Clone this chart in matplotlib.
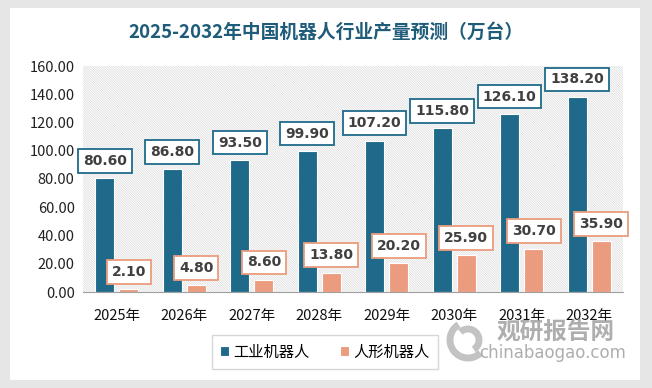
import matplotlib.pyplot as plt
import numpy as np
from matplotlib.patches import Rectangle, Arc

plt.rcParams['font.family'] = ['Noto Sans CJK SC', 'DejaVu Sans']
plt.rcParams['hatch.linewidth'] = 0.5

years = ["2025年", "2026年", "2027年", "2028年", "2029年", "2030年", "2031年", "2032年"]
industrial = [80.6, 86.8, 93.5, 99.9, 107.2, 115.8, 126.1, 138.2]
humanoid = [2.1, 4.8, 8.6, 13.8, 20.2, 25.9, 30.7, 35.9]
series_names = ["工业机器人", "人形机器人"]

blue = "#1F6A8A"
orange = "#EC9C7E"
W, H = 652, 388

fig = plt.figure(figsize=(6.52, 3.88), dpi=100)
fig.patch.set_facecolor("#E6E6E6")
# white card
card = Rectangle((10 / W, 8 / H), 630 / W, 372 / H, transform=fig.transFigure,
                 facecolor="white", edgecolor="none", zorder=-5)
fig.patches.append(card)

ax = fig.add_axes([83 / W, (H - 292) / H, 540 / W, 226 / H])
ax.set_facecolor("none")
bg = Rectangle((0, 0), 1, 1, transform=ax.transAxes, facecolor="white",
               edgecolor="#DADADA", hatch="\\" * 14, linewidth=0, zorder=0)
ax.add_patch(bg)

x = np.arange(len(years))
w = 0.28
b1 = ax.bar(x - 0.178, industrial, w, color=blue, edgecolor="white", linewidth=0.8, zorder=2,
            label=series_names[0])
b2 = ax.bar(x + 0.178, humanoid, w, color=orange, edgecolor="white", linewidth=0.8, zorder=2,
            label=series_names[1])

for bars, vals, col in [(b1, industrial, blue), (b2, humanoid, orange)]:
    for r, v in zip(bars, vals):
        ax.annotate(f"{v:.2f}", (r.get_x() + r.get_width() / 2, v),
                    xytext=(0, 12.5), textcoords="offset points", ha="center", va="center",
                    fontsize=10, fontweight="bold", color="#404040", family="DejaVu Sans",
                    bbox=dict(boxstyle="square,pad=0.35", facecolor="white",
                              edgecolor=col, linewidth=1.3), zorder=4)

ax.set_xlim(-0.5, len(years) - 0.5)
ax.set_ylim(0, 160)
ax.set_yticks(np.arange(0, 161, 20))
ax.set_yticklabels([f"{v:.2f}" for v in np.arange(0, 161, 20)], fontsize=10.5, color="#222222")
ax.set_xticks(x)
ax.set_xticklabels(years, fontsize=10.5, color="#111111")
ax.tick_params(axis="x", length=0, pad=12)
ax.tick_params(axis="y", length=0, pad=6)
for s in ["top", "right", "left"]:
    ax.spines[s].set_visible(False)
ax.spines["bottom"].set_color("#A0A0A0")

fig.text(0.5, (H - 32) / H, "2025-2032年中国机器人行业产量预测（万台）",
         ha="center", va="center", fontsize=13.5, fontweight="bold", color="#1F5C7A")

leg = fig.legend(handles=[b1, b2], loc="center", bbox_to_anchor=(325 / W, (H - 352) / H),
                 ncol=2, frameon=True, fontsize=11, handlelength=0.55, handleheight=0.55,
                 columnspacing=2.0, handletextpad=0.3, fancybox=False, borderpad=0.55,
                 borderaxespad=0)
leg.get_frame().set_edgecolor("#CCCCCC")

# watermark
fig.text(556 / W, (H - 332) / H, "观研报告网", ha="center", va="center",
         fontsize=17, fontweight="bold", color="#A0A0A0", alpha=0.85)
fig.text(553 / W, (H - 353) / H, "chinabaogao.com", ha="center", va="center",
         fontsize=12, color="#A0A0A0", alpha=0.85, family="DejaVu Sans")
for r, t1, t2 in [(36, 110, 300), (22, 290, 120)]:
    fig.patches.append(Arc((468 / W, (H - 340) / H), r / W, r / H, theta1=t1, theta2=t2,
                           transform=fig.transFigure, color="#B5B5B5", lw=5, alpha=0.8))

fig.savefig("out.png", dpi=100)
